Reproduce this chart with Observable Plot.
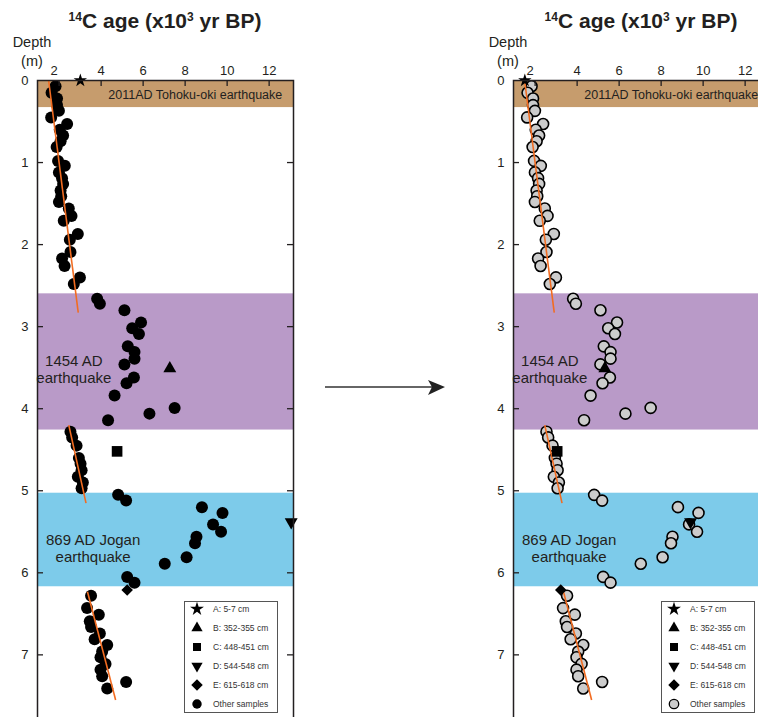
<!DOCTYPE html>
<html><head><meta charset="utf-8">
<script src="https://cdn.jsdelivr.net/npm/d3@7"></script>
<script src="https://cdn.jsdelivr.net/npm/@observablehq/plot@0.6"></script>
<style>
html,body{margin:0;padding:0;background:#fff;overflow:hidden;}
#root{position:relative;width:758px;height:717px;overflow:hidden;font-family:"Liberation Sans",Arial,sans-serif;color:#231f20;}
.panel{position:absolute;top:0;}
.title{position:absolute;top:9px;font-weight:bold;font-size:21px;white-space:nowrap;transform:translateX(-50%);line-height:24px;}
.title sup{font-size:12px;vertical-align:7px;line-height:0;}
.depth{position:absolute;top:33px;font-size:14.5px;line-height:19px;text-align:center;transform:translateX(-50%);white-space:nowrap;}
#arrow{position:absolute;left:0;top:0;}
</style></head>
<body><div id="root"></div>
<script>
// ---- data ----
const otherDepths = [0.07,0.15,0.22,0.30,0.37,0.45,0.53,0.60,0.67,0.74,0.81,0.98,1.04,1.12,1.19,1.26,1.34,1.41,1.48,1.56,1.65,1.71,1.87,1.94,2.09,2.17,2.26,2.40,2.48,
  2.66,2.72,2.80,2.95,3.02,3.09,3.24,3.31,3.39,3.46,3.62,3.69,3.84,3.99,4.06,4.14,
  4.28,4.35,4.45,4.60,4.67,4.75,4.83,4.90,4.97,
  5.05,5.12,5.20,5.27,5.41,5.50,5.56,5.64,5.81,5.89,6.05,6.12,
  6.28,6.43,6.51,6.59,6.66,6.74,6.81,6.88,6.96,7.03,7.11,7.18,7.26,7.33,7.41];
const otherAges = [1.83,1.64,1.90,1.90,1.99,1.62,2.38,2.03,2.19,2.07,1.88,1.95,2.27,1.99,2.14,2.19,2.07,2.10,1.99,2.46,2.59,2.22,2.89,2.51,2.54,2.14,2.26,2.99,2.70,
  3.81,3.94,5.11,5.90,5.48,5.80,5.27,5.59,5.59,5.11,5.56,5.21,4.64,7.50,6.30,4.33,
  2.54,2.62,2.83,2.94,3.02,3.07,2.89,3.13,3.07,
  4.81,5.19,8.80,9.78,9.33,9.71,8.54,8.47,8.07,7.03,5.24,5.59,
  3.52,3.33,3.89,3.46,3.52,3.94,3.69,4.29,4.05,3.97,4.21,3.97,4.05,5.19,4.29];

const specialLabels = ["A: 5-7 cm","B: 352-355 cm","C: 448-451 cm","D: 544-548 cm","E: 615-618 cm"];
const specialDepths = [0.0, 3.51, 4.52, 5.38, 6.21];
const specialAgesMeasured = [3.01, 7.27, 4.76, 13.05, 5.24];   // left panel
const specialAgesCorrected = [1.51, 5.32, 3.05, 9.40, 3.22];   // right panel
const legendOtherLabel = "Other samples";

const bandNames = ["2011AD Tohoku-oki earthquake","1454 AD earthquake","869 AD Jogan earthquake"];
const bandTop = [0, 2.60, 5.03];
const bandBottom = [0.33, 4.26, 6.17];
const bandColors = ["#c69c6d","#b99ac8","#7dcbea"];

const trendAge1 = [1.50, 2.46, 3.35];
const trendDepth1 = [0.00, 4.20, 6.23];
const trendAge2 = [2.91, 3.28, 4.69];
const trendDepth2 = [2.83, 5.15, 7.55];

const annoText = ["2011AD Tohoku-oki earthquake","1454 AD\nearthquake","869 AD Jogan\nearthquake"];
const annoAge = [4.34, 2.70, 3.62];
const annoDepth = [0.18, 3.52, 5.70];

const xTicks = [2,4,6,8,10,12];
const yTicks = [0,1,2,3,4,5,6,7];

// ---- helpers ----
const bands = bandTop.map((t,i)=>({name:bandNames[i], top:t, bottom:bandBottom[i], color:bandColors[i]}));
const trends = trendAge1.map((a,i)=>({x1:a, y1:trendDepth1[i], x2:trendAge2[i], y2:trendDepth2[i]}));
const others = otherAges.map((a,i)=>({age:a, depth:otherDepths[i]}));
const annos = annoText.map((t,i)=>({text:t, age:annoAge[i], depth:annoDepth[i]}));

const invTriangle = {draw(context, size){
  const y = -Math.sqrt(size / (Math.sqrt(3) * 3)), s3 = Math.sqrt(3);
  context.moveTo(0, -y*2); context.lineTo(-s3*y, y); context.lineTo(s3*y, y); context.closePath();
}};
const specialSymbols = ["star","triangle","square",invTriangle,"diamond2"];
const specialR = [4.2, 4.8, 6.0, 4.8, 5.2];

const INK = "#231f20";
const W = 300, H = 720, ML = 37, MR = 7, MT = 80;
const FW = W - ML - MR, FH = H - MT;

function panel(ages, corrected){
  const specials = ages.map((a,i)=>({age:a, depth:specialDepths[i]}));
  const marks = [
    Plot.rect(bands, {y1:"top", y2:"bottom", fill:"color"}),
    corrected
      ? Plot.dot(others, {x:"age", y:"depth", r:5.5, fill:"#cccccc", stroke:"#000", strokeWidth:1.6})
      : Plot.dot(others, {x:"age", y:"depth", r:6, fill:"#000"}),
    Plot.link(trends, {x1:"x1", y1:"y1", x2:"x2", y2:"y2", stroke:"#f26c21", strokeWidth:1.6}),
    ...specials.map((s,i)=>Plot.dot([s], {x:"age", y:"depth", r:specialR[i], symbol:specialSymbols[i], fill:"#000", stroke:"none"})),
    Plot.text(annos.slice(0,1), {x:"age", y:"depth", text:"text", textAnchor:"start", fontSize:12.5, fill:INK}),
    Plot.text(annos.slice(1), {x:"age", y:"depth", text:"text", textAnchor:"middle", fontSize:15, lineHeight:1.13, fill:INK}),
    Plot.frame({stroke:INK, strokeWidth:1.5}),
    Plot.tickX(xTicks, {x:d=>d, insetBottom:FH-6, stroke:INK, strokeWidth:1.3}),
    Plot.tickY(yTicks.slice(1), {y:d=>d, insetRight:FW-6, stroke:INK, strokeWidth:1.3}),
    Plot.tickY(yTicks.slice(1), {y:d=>d, insetLeft:FW-6, stroke:INK, strokeWidth:1.3}),
    Plot.axisX(xTicks.slice(0,1), {anchor:"top", tickSize:0, tickPadding:6, dx:-5, fontSize:13, color:INK, label:null, tickFormat:d3.format("d")}),
    Plot.axisX(xTicks.slice(1), {anchor:"top", tickSize:0, tickPadding:6, fontSize:13, color:INK, label:null, tickFormat:d3.format("d")}),
    Plot.axisY(yTicks, {anchor:"left", tickSize:0, tickPadding:9, fontSize:13, color:INK, label:null, tickFormat:d3.format("d")})
  ];
  return Plot.plot({
    width:W, height:H, marginLeft:ML, marginRight:MR, marginTop:MT, marginBottom:0,
    style:{fontFamily:'"Liberation Sans", Arial, sans-serif', fontSize:"13px", background:"transparent", overflow:"visible"},
    x:{domain:[0.97, 13.16]},
    y:{domain:[0, 7.8], reverse:true},
    color:{type:"identity"},
    symbol:{type:"identity"},
    marks
  });
}

const root = document.getElementById("root");
function place(el, left){ el.classList.add("panel"); el.style.left = left + "px"; root.appendChild(el); }
place(panel(specialAgesMeasured, false), 0);
place(panel(specialAgesCorrected, true), 476);

function addTitle(cx){
  const t = document.createElement("div"); t.className = "title"; t.style.left = cx + "px";
  t.innerHTML = "<sup>14</sup>C age (x10<sup>3</sup> yr BP)"; root.appendChild(t);
  const d = document.createElement("div"); d.className = "depth"; d.style.left = (cx - 133) + "px";
  d.innerHTML = "Depth<br>(m)"; root.appendChild(d);
}
addTitle(165); addTitle(641);

// legend
function addLegend(left, corrected){
  const svg = d3.create("svg").attr("width", 94).attr("height", 112)
    .style("position","absolute").style("left", left+"px").style("top","601px");
  svg.append("rect").attr("x",0.5).attr("y",0.5).attr("width",93).attr("height",111)
    .attr("fill","#fff").attr("stroke","#555").attr("stroke-width",1);
  const labels = [...specialLabels, legendOtherLabel];
  const syms = [d3.symbolStar, d3.symbolTriangle, d3.symbolSquare, invTriangle, d3.symbolSquare2, d3.symbolCircle];
  const sizes = [60, 55, 64, 55, 85, 70];
  labels.forEach((lab,i)=>{
    const cy = 8 + i*19;
    svg.append("path").attr("d", d3.symbol(syms[i], sizes[i])())
      .attr("transform", `translate(13,${cy})` + (i===4 ? " rotate(45)" : ""))
      .attr("fill", (i===5 && corrected) ? "#cccccc" : "#000")
      .attr("stroke", (i===5 && corrected) ? "#000" : "none").attr("stroke-width", 1.3);
    svg.append("text").attr("x", 29).attr("y", cy).attr("dy","0.35em")
      .attr("font-size", 8.5).attr("fill", "#333").attr("font-family",'"Liberation Sans", Arial, sans-serif')
      .text(lab);
  });
  root.appendChild(svg.node());
}
addLegend(184, false); addLegend(661, true);

// arrow between panels
const arrow = d3.create("svg").attr("id","arrow").attr("width",758).attr("height",717);
arrow.append("line").attr("x1",325).attr("y1",387).attr("x2",433).attr("y2",387).attr("stroke","#333").attr("stroke-width",1.5);
arrow.append("path").attr("d","M445,387 L428,380 L432,387 L428,395 Z").attr("fill","#222");
root.appendChild(arrow.node());
</script>
</body></html>
